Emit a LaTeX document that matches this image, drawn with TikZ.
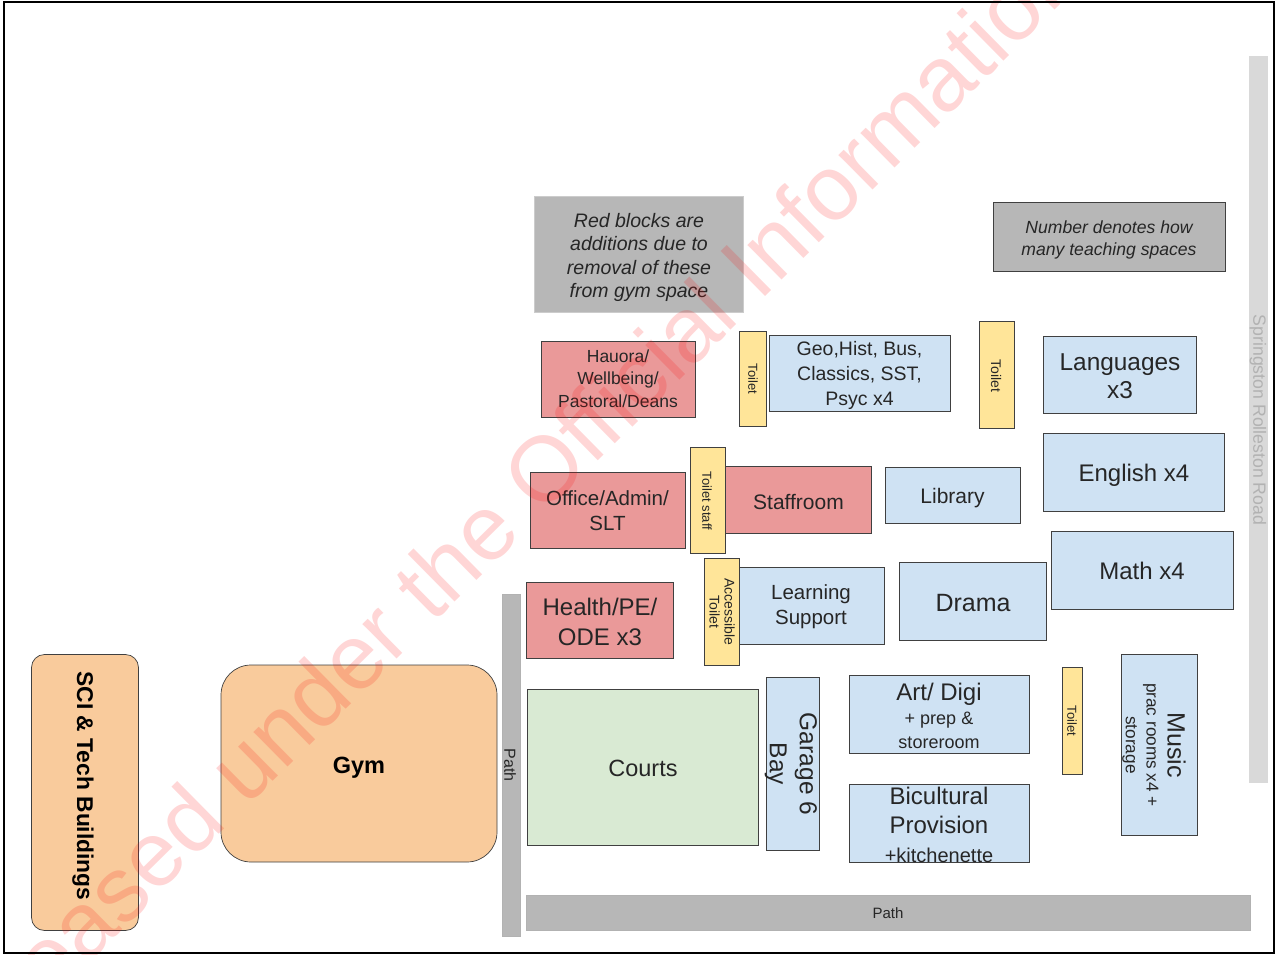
\documentclass[tikz,border=0pt]{standalone}
\usepackage{fontspec}
\setmainfont{Liberation Sans}
\definecolor{bluef}{HTML}{CFE2F3}
\definecolor{redf}{HTML}{EA9999}
\definecolor{yelf}{HTML}{FFE599}
\definecolor{orf}{HTML}{F9CB9C}
\definecolor{grnf}{HTML}{D9EAD3}
\definecolor{grayf}{HTML}{B7B7B7}
\definecolor{ltg}{HTML}{D9D9D9}
\newcommand{\fs}[2]{\fontsize{#1}{#2}\selectfont}
\tikzset{
 lbl/.style={align=center,text=black!85,inner sep=0pt},
 room/.style={draw=black!75,line width=.7pt,inner sep=0pt},
 wh/.style 2 args={minimum width=#1pt,minimum height=#2pt}
}
\begin{document}
\begin{tikzpicture}[x=1pt,y=-1pt]
\useasboundingbox (0,0) rectangle (1275,955);
\fill[white] (0,0) rectangle (1275,955);
% road
\node[fill=ltg,draw=black!15,wh={18}{726},inner sep=0pt] (road) at (1258.5,419) {};
\node[rotate=-90,lbl,text=black!30,font=\fs{17.7}{18}] (roadt) at (1258,420) {Springston Rolleston Road};
% left
\node[room,fill=orf,rounded corners=13pt,wh={107}{276}] (sci) at (85,792.5) {};
\node[rotate=-90,lbl,text=black,font=\bfseries\fs{22.8}{23}] (scit) at (83,786) {SCI \& Tech Buildings};
\node[room,fill=orf,rounded corners=30pt,wh={276}{197}] (gym) at (359,763.5) {};
\node[lbl,text=black,font=\bfseries\fs{23.5}{24}] (gymt) at (359,768) {Gym};
\node[draw=black!30,fill=grayf,wh={18}{342},inner sep=0pt] (path1) at (511,765) {};
\node[rotate=-90,lbl,font=\fs{16}{16}] (path1t) at (510,765) {Path};
\node[draw=black!30,fill=grayf,wh={724}{35},inner sep=0pt] (path2) at (888.5,912.5) {};
\node[lbl,font=\fs{15}{15}] (path2t) at (888,913) {Path};
% courts row
\node[room,fill=grnf,wh={231}{156}] (courts) at (643,767) {};
\node[lbl,font=\fs{23.5}{24}] (courtst) at (643,768.5) {Courts};
\node[room,fill=bluef,wh={53}{173}] (garage) at (792.5,764) {};
\node[rotate=-90,lbl,font=\fs{24.5}{30}] (garaget) at (791,764) {Garage 6\\Bay};
\node[room,fill=bluef,wh={180}{78}] (art) at (939,714) {};
\node[lbl,font=\fs{18}{24}] (artt) at (939,716) {{\fs{24}{24}Art/ Digi}\\+ prep \&\\storeroom};
\node[room,fill=bluef,wh={180}{78}] (bic) at (939,823.5) {};
\node[lbl,font=\fs{24}{29}] (bict) at (939,825) {Bicultural\\Provision\\{\fs{20}{20}+kitchenette}};
\node[room,fill=yelf,wh={20}{107}] (t5) at (1072,721) {};
\node[rotate=-90,lbl,font=\fs{13}{13}] (t5t) at (1072,721) {Toilet};
\node[room,fill=bluef,wh={76}{181}] (music) at (1159,745) {};
\node[rotate=-90,lbl] (musict) at (1154,745) {{\fs{25}{25}Music}\\[8pt]{\fs{17.2}{21}prac rooms x4 +}\\[5pt]{\fs{17.2}{21}storage}};
% rows
\node[room,fill=redf,wh={147}{76}] (health) at (600,620) {};
\node[lbl,font=\fs{24}{30}] (healtht) at (600,622) {Health/PE/\\ODE x3};
\node[room,fill=bluef,wh={146}{77}] (ls) at (811,606) {};
\node[lbl,font=\fs{20.5}{25}] (lst) at (811,607) {Learning\\Support};
\node[room,fill=yelf,wh={35}{107}] (t4) at (722,612) {};
\node[rotate=-90,lbl,font=\fs{14}{15}] (t4t) at (722,612) {Accessible\\Toilet};
\node[room,fill=bluef,wh={147}{78}] (drama) at (973,601) {};
\node[lbl,font=\fs{25}{25}] (dramat) at (973,603) {Drama};
\node[room,fill=bluef,wh={182}{78}] (math) at (1142,570) {};
\node[lbl,font=\fs{24}{24}] (matht) at (1142,571) {Math x4};
\node[room,fill=redf,wh={155}{76}] (office) at (607.5,510) {};
\node[lbl,font=\fs{20.5}{25}] (officet) at (607.5,511) {Office/Admin/\\SLT};
\node[room,fill=redf,wh={146}{67}] (staff) at (798.5,500) {};
\node[lbl,font=\fs{21}{21}] (stafft) at (798.5,502) {Staffroom};
\node[room,fill=yelf,wh={35}{106}] (t3) at (707.5,500) {};
\node[rotate=-90,lbl,font=\fs{13}{13}] (t3t) at (707,501) {Toilet staff};
\node[room,fill=bluef,wh={135}{56}] (lib) at (952.5,495.5) {};
\node[lbl,font=\fs{21}{21}] (libt) at (952.5,498) {Library};
\node[room,fill=bluef,wh={181}{78}] (eng) at (1134,472.5) {};
\node[lbl,font=\fs{24}{24}] (engt) at (1134,475) {English x4};
\node[room,fill=redf,wh={154}{76}] (hau) at (618,379) {};
\node[lbl,font=\fs{17.5}{22.5}] (haut) at (618,378.5) {Hauora/\\Wellbeing/\\Pastoral/Deans};
\node[room,fill=yelf,wh={27}{95}] (t1) at (753,379) {};
\node[rotate=-90,lbl,font=\fs{13}{13}] (t1t) at (753,379) {Toilet};
\node[room,fill=bluef,wh={181}{76}] (geo) at (859.5,373.5) {};
\node[lbl,font=\fs{19.5}{25}] (geot) at (859.5,375.5) {Geo,Hist, Bus,\\Classics, SST,\\Psyc x4};
\node[room,fill=yelf,wh={35}{107}] (t2) at (997,374.5) {};
\node[rotate=-90,lbl,font=\fs{14}{14}] (t2t) at (996,376) {Toilet};
\node[room,fill=bluef,wh={153}{77}] (lang) at (1120,374.5) {};
\node[lbl,font=\fs{24.4}{28}] (langt) at (1120,376) {Languages\\x3};
% notes
\node[draw=black!20,fill=grayf,wh={209}{116},inner sep=0pt] (red) at (639,254) {};
\node[lbl,font=\itshape\fs{19.5}{23.5}] (redt) at (639,257.5) {Red blocks are\\additions due to\\removal of these\\from gym space};
\node[draw=black!75,fill=grayf,wh={232}{69},inner sep=0pt] (num) at (1109,237) {};
\node[lbl,font=\itshape\fs{17.6}{22}] (numt) at (1109,239.5) {Number denotes how\\many teaching spaces};
% watermark
\begin{scope}
\clip (0,0) rectangle (1275,955);
\node[rotate=44.6,text=red,text opacity=.16,font=\fs{92}{92},inner sep=0pt,anchor=base west] (wmk) at (-48,1098) {Released under the Official Information Act};
\end{scope}
% frame
\draw[line width=2pt,black] (4,2) rectangle (1274,953);
\end{tikzpicture}
\end{document}
